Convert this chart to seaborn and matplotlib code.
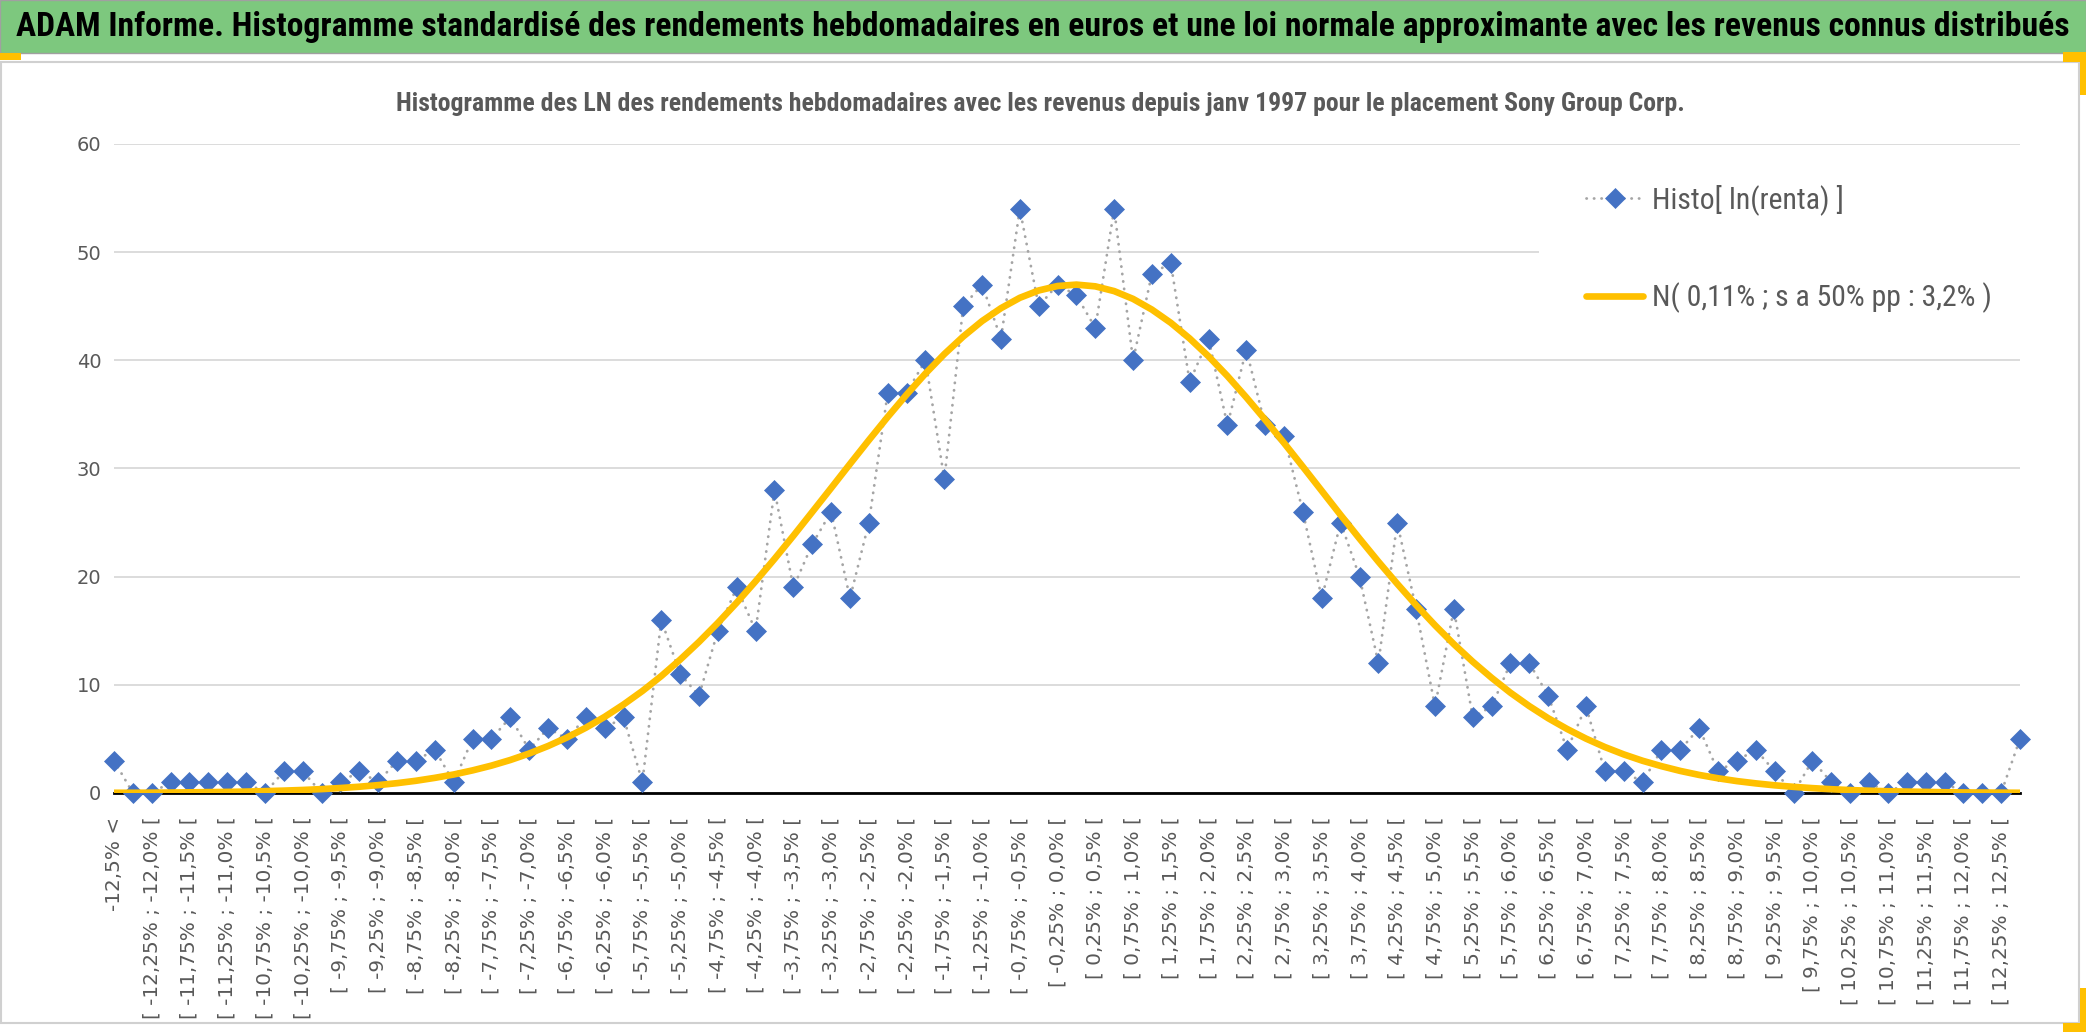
import numpy as np
import pandas as pd
import seaborn as sns
import matplotlib.pyplot as plt
from matplotlib import font_manager
from matplotlib.patches import Rectangle

# nombre de semaines par classe : "< -12,5%", 100 classes de 0,25%, "> 12,5%"
histo_counts = [
    3, 0, 0, 1, 1, 1, 1, 1, 0, 2, 2, 0, 1, 2, 1, 3, 3, 4, 1, 5,
    5, 7, 4, 6, 5, 7, 6, 7, 1, 16, 11, 9, 15, 19, 15, 28, 19, 23, 26, 18,
    25, 37, 37, 40, 29, 45, 47, 42, 54, 45, 47, 46, 43, 54, 40, 48, 49, 38, 42, 34,
    41, 34, 33, 26, 18, 25, 20, 12, 25, 17, 8, 17, 7, 8, 12, 12, 9, 4, 8, 2,
    2, 1, 4, 4, 6, 2, 3, 4, 2, 0, 3, 1, 0, 1, 0, 1, 1, 1, 0, 0,
    0, 5,
]

# courbe de la loi normale
normal_curve = [
    0.02, 0.02, 0.03, 0.04, 0.06, 0.08, 0.10, 0.13, 0.17, 0.22,
    0.28, 0.36, 0.46, 0.58, 0.73, 0.91, 1.13, 1.40, 1.71, 2.09,
    2.53, 3.05, 3.65, 4.34, 5.13, 6.03, 7.04, 8.18, 9.43, 10.81,
    12.33, 13.97, 15.73, 17.60, 19.58, 21.64, 23.78, 25.98, 28.19, 30.42,
    32.62, 34.77, 36.83, 38.78, 40.58, 42.20, 43.63, 44.82, 45.78, 46.46,
    46.87, 47.00, 46.84, 46.40, 45.68, 44.69, 43.47, 42.02, 40.37, 38.55,
    36.58, 34.51, 32.36, 30.16, 27.93, 25.70, 23.52, 21.39, 19.34, 17.37,
    15.51, 13.76, 12.14, 10.65, 9.27, 8.03, 6.91, 5.92, 5.03, 4.25,
    3.57, 2.98, 2.48, 2.04, 1.67, 1.36, 1.10, 0.89, 0.71, 0.57,
    0.45, 0.35, 0.27, 0.21, 0.16, 0.13, 0.10, 0.07, 0.05, 0.04,
    0.03, 0.02,
]

bin_low = np.round(np.arange(-12.5, 12.5, 0.25), 2)


def pct(v):
    s = f"{round(v, 2) + 0.0:.2f}"
    if s.endswith("0"):
        s = s[:-1]
    return s.replace(".", ",") + "%"


categories = (["-12,5% <"]
              + [f"[ {pct(lo)} ; {pct(lo + 0.25)} [" for lo in bin_low]
              + ["12,5% >"])
y_ticks = [0, 10, 20, 30, 40, 50, 60]

banner_text = ("ADAM Informe. Histogramme standardisé des rendements hebdomadaires "
               "en euros et une loi normale approximante avec les revenus connus distribués")
chart_title = ("Histogramme des LN des rendements hebdomadaires avec les revenus "
               "depuis janv 1997 pour le placement Sony Group Corp.")
label_histo = "Histo[ ln(renta) ]"
label_normal = "N( 0,11% ; s a 50% pp : 3,2% )"

GREY_TXT = "#595959"
GRID = "#D9D9D9"
BLUE = "#4472C4"
GOLD = "#FFC000"

sns.set_style("white")
plt.rcParams["font.family"] = ["DejaVu Sans"]

installed = {f.name for f in font_manager.fontManager.ttflist}
narrow = next((n for n in ["Roboto Condensed", "PT Sans Narrow",
                           "Open Sans Condensed", "Liberation Sans"]
               if n in installed), "DejaVu Sans")

W, H = 2086, 1033
fig = plt.figure(figsize=(W / 100, H / 100), dpi=100)
renderer = fig.canvas.get_renderer()


def fx(px):
    return px / W


def fy(py):
    return 1 - py / H


def fit(txt, target_px):
    w = txt.get_window_extent(renderer).width
    txt.set_fontsize(txt.get_fontsize() * target_px / w)
    return txt.get_fontsize()


# fond : bandeau vert, cadre du graphique, poignées jaunes
fig.patches.append(Rectangle((0, fy(53)), 1, 53 / H, transform=fig.transFigure,
                             facecolor="#7DC87E", edgecolor="#A0A0A0", lw=1, zorder=-5))
fig.patches.append(Rectangle((fx(1), fy(1023)), fx(2078), (1023 - 62) / H,
                             transform=fig.transFigure, facecolor="white",
                             edgecolor="#D0D0D0", lw=1.5, zorder=-5))
for x0, y0, w, h in [(0, 53, 21, 7),
                     (2063, 52, 23, 10), (2080, 52, 6, 43),
                     (2080, 988, 6, 44), (2063, 1023, 23, 9)]:
    fig.patches.append(Rectangle((fx(x0), fy(y0 + h)), fx(w), h / H,
                                 transform=fig.transFigure, facecolor=GOLD,
                                 edgecolor="none", zorder=-4))

t = fig.text(fx(16), fy(27), banner_text, ha="left", va="center",
             fontweight="bold", color="black", family=narrow, fontsize=20)
fit(t, 2040)
t = fig.text(fx(1040), fy(104), chart_title, ha="center", va="center",
             fontweight="bold", color=GREY_TXT, family=narrow, fontsize=14)
fit(t, 1295)

ax = fig.add_axes([fx(114), fy(793), fx(2020 - 114), (793 - 144) / H])
ax.set_facecolor("none")

df = pd.DataFrame({"classe": range(len(categories)),
                   "histo": histo_counts,
                   "normale": normal_curve})

sns.lineplot(data=df, x="classe", y="histo", ax=ax, errorbar=None,
             color="#A5A5A5", lw=2, linestyle=(0, (0.1, 2.6)),
             dash_capstyle="round", marker="D", markersize=10,
             markerfacecolor=BLUE, markeredgecolor=BLUE, markeredgewidth=0.5,
             clip_on=False, zorder=3, label=label_histo)
sns.lineplot(data=df, x="classe", y="normale", ax=ax, errorbar=None,
             color=GOLD, lw=4.8, solid_capstyle="round", zorder=4,
             label=label_normal)

ax.set_xlim(0, len(categories) - 1)
ax.set_ylim(0, 60)
ax.set_xlabel("")
ax.set_ylabel("")

major = list(range(0, 101, 2))
ax.set_xticks(major)
ax.set_xticklabels([categories[i] for i in major], rotation=90,
                   fontsize=14.4, color=GREY_TXT)
ax.set_xticks(range(0, 101, 4), minor=True)
ax.tick_params(axis="x", which="major", length=0, pad=17)
ax.tick_params(axis="x", which="minor", length=9, width=2, color="black",
               direction="out")
ax.set_yticks(y_ticks)
ax.tick_params(axis="y", length=0, pad=9, labelsize=14, labelcolor=GREY_TXT)
ax.grid(axis="x", which="minor", color=GRID, lw=1.3)
ax.grid(axis="y", which="major", color=GRID, lw=1.3)
ax.set_axisbelow(True)
for side in ["left", "right", "top"]:
    ax.spines[side].set_visible(False)
ax.spines["bottom"].set_color("black")
ax.spines["bottom"].set_linewidth(2)

# zone blanche de la légende
ax.add_patch(Rectangle((75.5, 41.9), 25.5, 17.2, facecolor="white",
                       edgecolor="none", zorder=1))

probe = fig.text(0, 0, label_normal, family=narrow, fontsize=20)
leg_fs = fit(probe, 340)
probe.remove()

handles = ax.get_lines()[:2]
ax.legend(handles, [label_histo, label_normal], loc="upper left",
          bbox_to_anchor=(78.0 / 101, (54.7 + 1.55) / 60),
          frameon=False, borderpad=0, borderaxespad=0,
          prop={"family": narrow, "size": leg_fs},
          labelcolor=GREY_TXT, numpoints=1,
          handlelength=41.4 / leg_fs, handletextpad=6.1 / leg_fs,
          labelspacing=(73.5 - 1.17 * leg_fs) / leg_fs)

fig.savefig("out.png", dpi=100)
